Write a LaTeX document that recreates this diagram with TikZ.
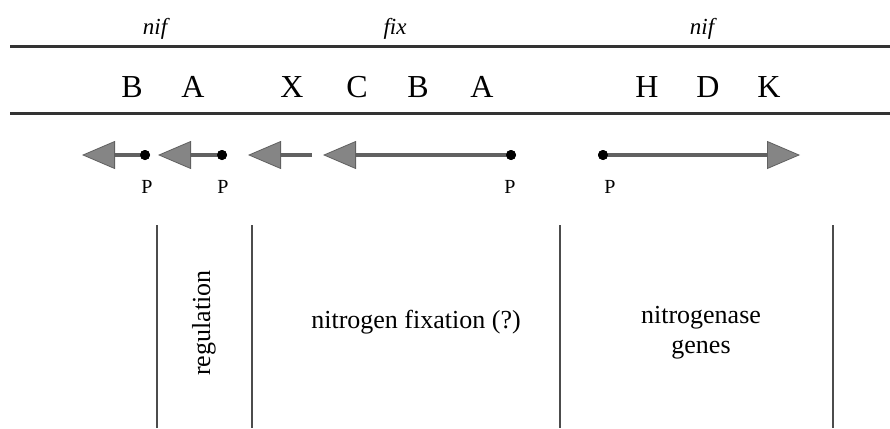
\documentclass[tikz,border=0pt]{standalone}
\usepackage{fontspec}
\setmainfont{Liberation Serif}
\usetikzlibrary{arrows.meta}
\begin{document}
\begin{tikzpicture}[x=1pt,y=-1pt,
  gene/.style={font=\fontsize{32}{36}\selectfont, anchor=base, inner sep=0pt},
  locus/.style={font=\fontsize{23}{26}\selectfont\itshape, anchor=base, inner sep=0pt},
  prom/.style={font=\fontsize{20}{22}\selectfont, anchor=base, inner sep=0pt},
  lbl/.style={font=\fontsize{26}{30}\selectfont, inner sep=0pt},
  rule/.style={line width=3pt, black!80},
  sep/.style={line width=2pt, black!70},
  dot/.style={circle, fill=black, inner sep=0pt, minimum size=10pt},
  operon/.style={line width=3.5pt, black!62,
    -{Triangle[length=33pt, width=28pt, line width=0.8pt, fill=black!48]}},
]
\useasboundingbox (0,0) rectangle (890,428);

% horizontal rules
\coordinate (tl) at (10,47);
\coordinate (tr) at (890,47);
\coordinate (bl) at (10,113);
\coordinate (br) at (890,113);
\draw[rule] (tl) -- (tr);
\draw[rule] (bl) -- (br);

% locus labels
\node[locus] (nif1) at (155,35) {nif};
\node[locus] (fix) at (395,35) {fix};
\node[locus] (nif2) at (702,35) {nif};

% gene letters
\node[gene] (gB1) at (132,97) {B};
\node[gene] (gA1) at (193,97) {A};
\node[gene] (gX) at (292,97) {X};
\node[gene] (gC) at (357,97) {C};
\node[gene] (gB2) at (418,97) {B};
\node[gene] (gA2) at (482,97) {A};
\node[gene] (gH) at (647,97) {H};
\node[gene] (gD) at (708,97) {D};
\node[gene] (gK) at (769,97) {K};

% promoters and operon arrows
\node[dot] (d1) at (145,155) {};
\node[dot] (d2) at (222,155) {};
\node[dot] (d3) at (511,155) {};
\node[dot] (d4) at (603,155) {};
\coordinate (t1) at (82,155);
\coordinate (t2) at (158,155);
\coordinate (s3) at (312,155);
\coordinate (t3) at (248,155);
\coordinate (t4) at (323,155);
\coordinate (t5) at (800,155);

\draw[operon] (d1.center) -- (t1);
\draw[operon] (d2.center) -- (t2);
\draw[operon] (s3) -- (t3);
\draw[operon] (d3.center) -- (t4);
\draw[operon] (d4.center) -- (t5);
\node[dot] at (d1) {};
\node[dot] at (d2) {};
\node[dot] at (d3) {};
\node[dot] at (d4) {};

\node[prom] (p1) at (147,193) {P};
\node[prom] (p2) at (223,193) {P};
\node[prom] (p3) at (510,193) {P};
\node[prom] (p4) at (610,193) {P};

% vertical separators
\coordinate (v1t) at (157,225); \coordinate (v1b) at (157,428);
\coordinate (v2t) at (252,225); \coordinate (v2b) at (252,428);
\coordinate (v3t) at (560,225); \coordinate (v3b) at (560,428);
\coordinate (v4t) at (833,225); \coordinate (v4b) at (833,428);
\draw[sep] (v1t) -- (v1b);
\draw[sep] (v2t) -- (v2b);
\draw[sep] (v3t) -- (v3b);
\draw[sep] (v4t) -- (v4b);

% region labels
\node[lbl, rotate=90, anchor=base] (reg) at (210,323) {regulation};
\node[lbl, anchor=base] (fixl) at (416,328) {nitrogen fixation (?)};
\node[lbl, anchor=base] (nase1) at (701,323) {nitrogenase};
\node[lbl, anchor=base] (nase2) at (701,353) {genes};
\end{tikzpicture}
\end{document}
